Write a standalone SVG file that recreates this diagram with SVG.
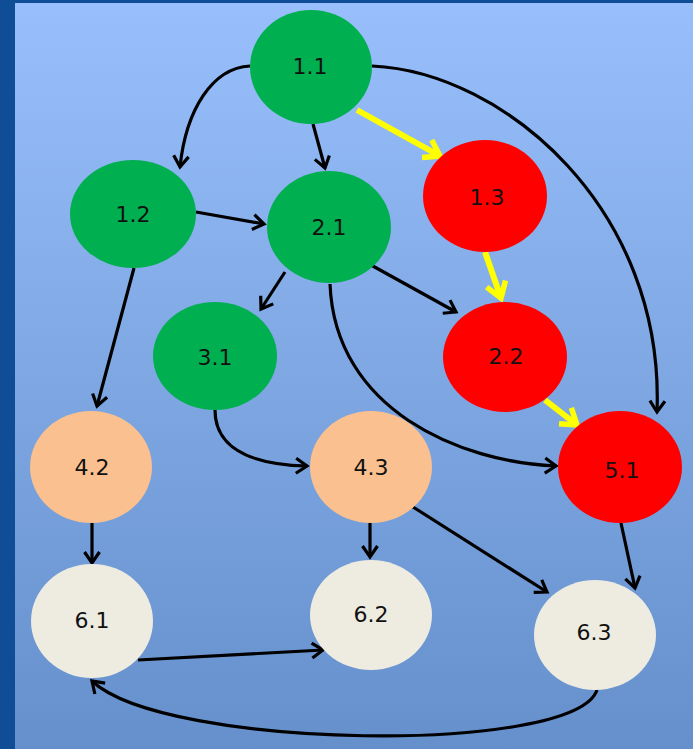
<svg xmlns="http://www.w3.org/2000/svg" width="693" height="749" viewBox="0 0 693 749">
<defs>
<linearGradient id="bg" x1="0" y1="0" x2="0" y2="1">
<stop offset="0" stop-color="#98bffb"/>
<stop offset="1" stop-color="#6590cb"/>
</linearGradient>
<marker id="ab" markerUnits="userSpaceOnUse" markerWidth="20" markerHeight="20" refX="13" refY="9" orient="auto" overflow="visible">
<path d="M2,1.5 L13,9 L2,16.5" fill="none" stroke="#000" stroke-width="3.2" stroke-linejoin="miter"/>
</marker>
<marker id="ay" markerUnits="userSpaceOnUse" markerWidth="28" markerHeight="28" refX="18" refY="13" orient="auto" overflow="visible">
<path d="M3,3 L18,13 L3,23" fill="none" stroke="#ffff00" stroke-width="5.5" stroke-linejoin="miter"/>
</marker>
</defs>
<style>
.e{fill:none;stroke:#000;stroke-width:3.2;marker-end:url(#ab)}
.y{fill:none;stroke:#ffff00;stroke-width:6;marker-end:url(#ay)}
.g{fill:#00b050}
.r{fill:#ff0000}
.p{fill:#fac090}
.c{fill:#eeece1}
text{font-family:"DejaVu Sans","Liberation Sans",sans-serif;font-size:22px;fill:#111;text-anchor:middle;dominant-baseline:central}
</style>
<rect x="0" y="0" width="693" height="749" fill="#0f4e96"/>
<rect x="15" y="3" width="678" height="746" fill="url(#bg)"/>
<g id="connectors">
<path class="e" d="M250,66 C212,68 186,110 180,167"/>
<path class="e" d="M313,124 L325,168"/>
<path class="e" d="M372,66 C505,72 665,210 657,412"/>
<path class="e" d="M196,212 L264,224"/>
<path class="e" d="M134,268 L97,406"/>
<path class="e" d="M285,272 L261,309"/>
<path class="e" d="M371,265 L456,312"/>
<path class="e" d="M330,284 C335,410 460,462 556,466"/>
<path class="e" d="M215,410 C215,455 265,465 307,466"/>
<path class="e" d="M92,523 L92,563"/>
<path class="e" d="M370,523 L370,557"/>
<path class="e" d="M413,507 L547,592"/>
<path class="e" d="M621,523 L635,588"/>
<path class="e" d="M138,660 L323,650"/>
<path class="e" d="M597,690 C575,755 165,750 92,681"/>
<path class="y" d="M357,110 L440,156"/>
<path class="y" d="M485,252 L501,298"/>
<path class="y" d="M545,400 L577,425"/>
</g>
<g id="n11"><ellipse class="g" cx="311" cy="67" rx="61" ry="57"/><text x="310" y="66">1.1</text></g>
<g id="n12"><ellipse class="g" cx="133" cy="214" rx="63" ry="54"/><text x="133" y="214">1.2</text></g>
<g id="n21"><ellipse class="g" cx="329" cy="227" rx="62" ry="56"/><text x="329" y="227">2.1</text></g>
<g id="n13"><ellipse class="r" cx="485" cy="196" rx="62" ry="56"/><text x="487" y="197">1.3</text></g>
<g id="n31"><ellipse class="g" cx="215" cy="356" rx="62" ry="54"/><text x="215" y="357">3.1</text></g>
<g id="n22"><ellipse class="r" cx="505" cy="357" rx="62" ry="55"/><text x="506" y="356">2.2</text></g>
<g id="n42"><ellipse class="p" cx="91" cy="467" rx="61" ry="56"/><text x="92" y="467">4.2</text></g>
<g id="n43"><ellipse class="p" cx="371" cy="467" rx="61" ry="56"/><text x="371" y="467">4.3</text></g>
<g id="n51"><ellipse class="r" cx="620" cy="467" rx="62" ry="56"/><text x="622" y="470">5.1</text></g>
<g id="n61"><ellipse class="c" cx="92" cy="621" rx="61" ry="57"/><text x="92" y="620">6.1</text></g>
<g id="n62"><ellipse class="c" cx="371" cy="615" rx="61" ry="55"/><text x="371" y="614">6.2</text></g>
<g id="n63"><ellipse class="c" cx="595" cy="635" rx="61" ry="55"/><text x="594" y="632">6.3</text></g>
</svg>
